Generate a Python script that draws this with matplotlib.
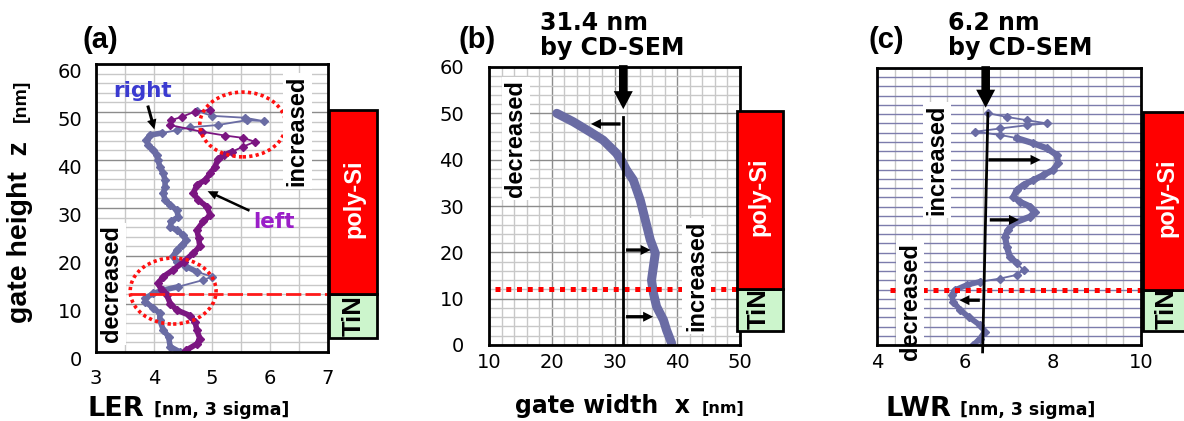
import matplotlib
matplotlib.use("Agg")
import matplotlib.pyplot as plt
import matplotlib.transforms as mtransforms
from matplotlib.patches import Rectangle, Ellipse, FancyArrowPatch
import numpy as np

# ---------------- data ----------------
# (a) LER vs gate height
ler_right_z = [0, 1.1, 3.2, 4.6, 6.7, 8.1, 9.1, 10.5, 11.2, 12.2, 12.9, 13.6, 15.0, 15.7, 16.7,
               17.8, 18.8, 19.9, 21.2, 22.3, 23.3, 24.4, 25.4, 26.1, 27.2, 28.2, 29.6, 30.6, 31.7,
               33.1, 34.4, 35.8, 37.2, 38.6, 40.0, 41.0, 42.1, 43.1, 44.2, 45.2, 45.6, 46.2, 46.8,
               47.3, 48.3, 48.1, 48.8, 49.2, 50.2]
ler_right = [4.45, 4.28, 4.25, 4.16, 4.10, 4.10, 3.99, 3.85, 3.85, 3.99, 4.16, 4.42, 4.85, 5.0, 4.74,
             4.56, 4.39, 4.33, 4.39, 4.48, 4.56, 4.50, 4.39, 4.28, 4.30, 4.42, 4.39, 4.28, 4.19,
             4.16, 4.19, 4.19, 4.16, 4.10, 4.07, 4.05, 3.99, 3.90, 3.87, 3.93, 4.13, 4.39, 4.62,
             5.11, 5.60, 5.89, 5.57, 5.00, 4.74]
ler_left_z = [0, 0.4, 1.7, 2.8, 4.5, 6.2, 7.6, 8.75, 10.1, 11.9, 12.9, 14.3, 15.7, 17.1, 18.8,
              20.6, 22.0, 23.7, 25.4, 27.2, 28.5, 30.3, 31.7, 33.1, 34.8, 35.8, 37.2, 38.6, 40.3,
              41.0, 41.7, 42.8, 43.8, 44.6, 45.1, 45.9, 47.3, 48.3, 49.0, 50.1, 50.4]
ler_left = [4.53, 4.56, 4.74, 4.79, 4.74, 4.71, 4.62, 4.39, 4.28, 4.22, 4.13, 4.07, 4.16, 4.33, 4.51,
            4.68, 4.79, 4.77, 4.74, 4.85, 4.97, 4.91, 4.76, 4.68, 4.74, 4.88, 4.97, 5.05, 5.11,
            5.20, 5.34, 5.54, 5.74, 5.54, 5.22, 4.82, 4.27, 4.30, 4.48, 4.71, 4.97]

# (b) gate width vs gate height
width_z = [0.4, 3.2, 5.4, 8.3, 11.2, 14.0, 16.9, 19.8, 22.7, 27.0, 31.3, 35.6, 37.8, 39.6, 41.4,
           44.2, 46.0, 48.2, 50.0]
width = [39.1, 38.3, 37.8, 36.7, 36.2, 35.9, 36.2, 36.5, 35.7, 34.9, 34.1, 33.0, 31.9, 31.2, 30.3,
         28.2, 26.1, 23.4, 20.8]

# (c) LWR vs gate height
lwr_z = [0, 1.4, 2.9, 4.3, 6.1, 7.6, 9.4, 10.8, 11.9, 13.0, 13.7, 14.4, 15.2, 16.2, 17.7, 19.1,
         21.3, 23.5, 24.9, 26.4, 27.8, 28.9, 30.0, 31.0, 32.1, 33.6, 34.7, 35.7, 36.8, 37.9, 39.4,
         41.2, 42.6, 43.7, 44.8, 45.5, 46.2, 46.9, 47.6, 48.0, 48.7, 49.4, 50.2]
lwr = [6.19, 6.34, 6.45, 6.34, 6.08, 5.89, 5.73, 5.70, 5.77, 6.04, 6.34, 6.80, 7.18, 7.33, 7.18, 7.02,
       6.95, 6.91, 6.98, 7.10, 7.48, 7.59, 7.48, 7.25, 7.10, 7.18, 7.33, 7.55, 7.78, 8.00, 8.12,
       8.08, 7.86, 7.55, 7.18, 6.80, 6.23, 6.80, 7.40, 7.86, 7.40, 6.95, 6.53]

cd_width = 31.4          # CD-SEM gate width
cd_lwr_label = 6.2       # CD-SEM LWR (label)
cd_lwr_line = [6.40, 6.52]   # drawn reference line in (c), bottom / top
interface_z = 12         # poly-Si / TiN interface
polysi_top = 50.5
tin_bottom = 3

a_xticks = [3, 4, 5, 6, 7]
b_xticks = [10, 20, 30, 40, 50]
c_xticks = [4, 6, 8, 10]
z_ticks = [0, 10, 20, 30, 40, 50, 60]

C_RIGHT = "#6a6ca4"
C_LEFT = "#7b1581"
W, H = 1184, 421

fig = plt.figure(figsize=(W / 100, H / 100), dpi=100)


def px_box(l, t, r, b):
    return [l / W, 1 - b / H, (r - l) / W, (b - t) / H]


def ft(x, y, s, **kw):
    return fig.text(x / W, 1 - y / H, s, **kw)


def arrow(ax, p0, p1, ms, tw, hw, hl, clip=True):
    a = FancyArrowPatch(p0, p1, arrowstyle=f"simple,tail_width={tw},head_width={hw},head_length={hl}",
                        mutation_scale=ms, color="k", lw=0, zorder=7, clip_on=clip)
    ax.add_patch(a)


ax_a = fig.add_axes(px_box(96, 64, 328, 352))
ax_b = fig.add_axes(px_box(489, 67, 740, 345))
ax_c = fig.add_axes(px_box(877, 68, 1141, 345))

for ax in (ax_a, ax_b, ax_c):
    ax.set_ylim(0, 60)
    ax.set_yticks(z_ticks)
    ax.set_yticks(np.arange(0, 61, 2), minor=True)
    ax.tick_params(which="both", length=0, labelsize=14)
    for sp in ax.spines.values():
        sp.set_linewidth(2)
        sp.set_zorder(6)
    ax.set_axisbelow(True)

# ---- grids ----
ax_a.set_xlim(3, 7)
ax_a.set_xticks(a_xticks)
ax_a.set_xticks(np.arange(3, 7.01, 0.5), minor=True)
ax_a.grid(which="minor", color="#c8c8c8", lw=1)
ax_a.grid(which="major", axis="y", color="#8c8c8c", lw=1)
ax_a.grid(which="major", axis="x", color="#c8c8c8", lw=1)
ax_a.tick_params(axis="y", pad=10)
ax_a.tick_params(axis="x", pad=12)

ax_b.set_xlim(10, 50)
ax_b.set_xticks(b_xticks)
ax_b.set_xticks(np.arange(10, 50.1, 2), minor=True)
ax_b.grid(which="minor", color="#c8c8c8", lw=1)
ax_b.grid(which="major", color="#8c8c8c", lw=1)
ax_b.tick_params(axis="y", pad=18)
ax_b.tick_params(axis="x", pad=6)

ax_c.set_xlim(4, 10)
ax_c.set_xticks(c_xticks)
ax_c.set_xticks(np.arange(4, 10.01, 0.4), minor=True)
ax_c.grid(which="minor", axis="x", color="#c8c8c8", lw=1)
ax_c.grid(which="major", axis="x", color="#c8c8c8", lw=1)
ax_c.grid(which="both", axis="y", color="#7c7cac", lw=1)
ax_c.set_yticklabels([])
ax_c.tick_params(axis="x", pad=6)

# shift y tick labels of (a) slightly down, like the picture
off = mtransforms.ScaledTranslation(0, -6 / 100, fig.dpi_scale_trans)
for lab in ax_a.get_yticklabels():
    lab.set_transform(lab.get_transform() + off)

# ---- (a) curves ----
ax_a.plot(ler_right, ler_right_z, color=C_RIGHT, lw=1.3, marker="D", ms=4, zorder=3)
ax_a.plot(ler_right[:12], ler_right_z[:12], color=C_RIGHT, lw=4, zorder=3)
ax_a.plot(ler_right[14:41], ler_right_z[14:41], color=C_RIGHT, lw=4, zorder=3)
ax_a.plot(ler_left, ler_left_z, color=C_LEFT, lw=1.3, marker="D", ms=4, zorder=3)
ax_a.plot(ler_left[:31], ler_left_z[:31], color=C_LEFT, lw=4, zorder=3)

ax_a.add_patch(Ellipse((5.53, 47.4), 1.48, 13.5, fill=False, ec="#ff1010", lw=2.6,
                       ls=(0, (0.9, 0.9)), zorder=4))
ax_a.add_patch(Ellipse((4.33, 12.7), 1.48, 13.75, fill=False, ec="#ff1010", lw=2.6,
                       ls=(0, (0.9, 0.9)), zorder=4))
ax_a.plot([3.59, 7.02], [interface_z, interface_z], color="#ff1a1a", lw=2,
          ls=(0, (5.5, 1.5)), clip_on=False, zorder=4)

rot_kw = dict(rotation=90, ha="center", va="center", fontsize=17, fontweight="bold",
              family="Liberation Sans", zorder=5,
              bbox=dict(facecolor="white", edgecolor="none", pad=2))
ax_a.text(6.47, 46, "increased", **rot_kw)
ax_a.text(3.27, 14.2, "decreased", **rot_kw)

ax_a.text(3.81, 54.4, "right", color="#3a3ad0", fontsize=15.5, fontweight="bold",
          ha="center", va="center", zorder=5)
ax_a.text(6.07, 27.1, "left", color="#9a1ec8", fontsize=15.5, fontweight="bold",
          ha="center", va="center", zorder=5)
arrow(ax_a, (3.88, 51.9), (4.02, 45.8), 7.2, 0.3, 0.95, 1.0)
arrow(ax_a, (5.69, 29.2), (4.88, 33.75), 7.2, 0.25, 0.9, 1.0)

# ---- (b) curve ----
ax_b.plot(width, width_z, color=C_RIGHT, lw=6.5, solid_capstyle="round", zorder=3)
ax_b.plot([cd_width, cd_width], [0, 49.3], color="k", lw=2, zorder=5)
arrow(ax_b, (cd_width, 61), (cd_width, 50.3), 14.4, 0.43, 0.95, 0.9, clip=False)
arrow(ax_b, (cd_width, 47.7), (25.8, 47.7), 7.2, 0.33, 1.0, 1.0)
arrow(ax_b, (cd_width, 20.5), (36.2, 20.5), 7.2, 0.33, 1.0, 1.0)
arrow(ax_b, (cd_width, 6.1), (36.6, 6.1), 7.2, 0.33, 1.0, 1.0)
ax_b.plot([11, 50.3], [interface_z, interface_z], color="#ff0000", lw=3.6,
          ls=(0, (1, 1.15)), dash_capstyle="butt", clip_on=False, zorder=4)
ax_b.text(14.3, 44.6, "decreased", **rot_kw)
ax_b.text(43.1, 14.9, "increased", **rot_kw)

# ---- (c) curve ----
ax_c.plot(lwr, lwr_z, color=C_RIGHT, lw=1.3, marker="D", ms=4, zorder=3)
ax_c.plot(lwr[:11], lwr_z[:11], color=C_RIGHT, lw=4, zorder=3)
ax_c.plot(lwr[14:35], lwr_z[14:35], color=C_RIGHT, lw=4.5, zorder=3)
ax_c.plot(cd_lwr_line, [-1.5, 50.2], color="k", lw=2, clip_on=False, zorder=5)
arrow(ax_c, (6.47, 61), (6.47, 50.8), 14.4, 0.43, 0.95, 0.9, clip=False)
arrow(ax_c, (6.47, 40.1), (7.78, 40.1), 7.2, 0.33, 1.0, 1.0)
arrow(ax_c, (6.5, 27.1), (7.29, 27.1), 7.2, 0.33, 1.0, 1.0)
arrow(ax_c, (6.4, 9.7), (5.81, 9.7), 7.2, 0.33, 1.0, 1.0)
ax_c.plot([4.3, 10.05], [interface_z, interface_z], color="#ff0000", lw=3.6,
          ls=(0, (1, 1.15)), dash_capstyle="butt", clip_on=False, zorder=4)
ax_c.text(5.36, 40.1, "increased", **rot_kw)
ax_c.text(4.75, 9.5, "decreased", clip_on=False, **rot_kw)

# ---- material stack boxes ----
# (axes, box left, box right, text centre) in axes-fraction x
stacks = ((ax_a, 1.004, 1.211, 1.110), (ax_b, 0.99, 1.171, 1.075), (ax_c, 1.008, 1.25, 1.098))
for ax, x0, x1, xm in stacks:
    tr = mtransforms.blended_transform_factory(ax.transAxes, ax.transData)
    ax.add_patch(Rectangle((x0, tin_bottom), x1 - x0, interface_z - tin_bottom, transform=tr,
                           facecolor="#ccf5cc", edgecolor="k", lw=2, clip_on=False, zorder=8))
    ax.add_patch(Rectangle((x0, interface_z), x1 - x0, polysi_top - interface_z, transform=tr,
                           facecolor="#ff0000", edgecolor="k", lw=2, clip_on=False, zorder=10))
    ax.text(xm, 3.4, "TiN", transform=tr, rotation=90, ha="center", va="bottom", fontsize=18.5,
            fontweight="bold", family="Liberation Sans", clip_on=False, zorder=9)
    ax.text(xm, 32, "poly-Si", transform=tr, rotation=90, ha="center", va="center",
            fontsize=17, fontweight="bold", family="Liberation Sans", color="white",
            clip_on=False, zorder=11)

# ---- labels ----
ft(20, 232, "gate height  z", rotation=90, ha="center", va="center", fontsize=20.5,
   fontweight="bold", family="Liberation Sans")
ft(21, 101, "[nm]", rotation=90, ha="center", va="center", fontsize=14,
   fontweight="bold", family="Liberation Sans")

ft(87, 416, "LER", fontsize=19.5, fontweight="bold", va="baseline")
ft(154, 415, "[nm, 3 sigma]", fontsize=12.5, fontweight="bold", va="baseline")
ft(515, 413, "gate width  x", fontsize=17, fontweight="bold", va="baseline")
ft(702, 413, "[nm]", fontsize=11.5, fontweight="bold", va="baseline")
ft(885, 416, "LWR", fontsize=19.5, fontweight="bold", va="baseline")
ft(960, 415, "[nm, 3 sigma]", fontsize=12.5, fontweight="bold", va="baseline")

for x, s in ((82, "(a)"), (458, "(b)"), (868, "(c)")):
    ft(x, 48, s, fontsize=21, fontweight="bold", family="Liberation Sans", va="baseline")

ft(540, 30, f"{cd_width} nm", fontsize=17, fontweight="bold", va="baseline")
ft(540, 55, "by CD-SEM", fontsize=17, fontweight="bold", va="baseline")
ft(948, 30, f"{cd_lwr_label} nm", fontsize=17, fontweight="bold", va="baseline")
ft(948, 55, "by CD-SEM", fontsize=17, fontweight="bold", va="baseline")

fig.savefig("out.png", dpi=100)
